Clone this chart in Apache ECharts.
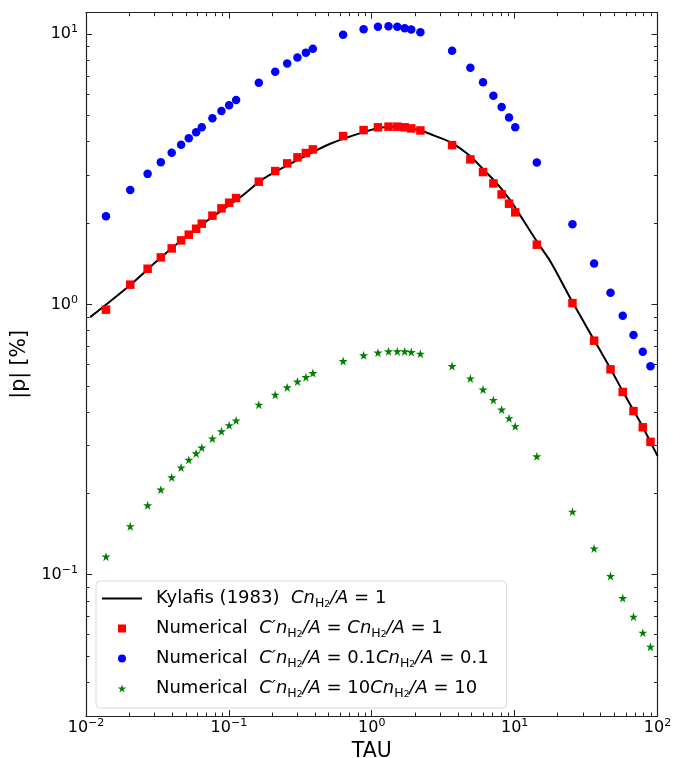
<!DOCTYPE html>
<html>
<head>
<meta charset="utf-8">
<title>|p| vs TAU</title>
<script src="https://cdn.jsdelivr.net/npm/echarts@6/dist/echarts.min.js"></script>
<style>
  html, body { margin: 0; padding: 0; background: #fff; }
  #main { width: 673px; height: 758px; }
</style>
</head>
<body>
<div id="main"></div>
<script>
"use strict";

// tau grid of the numerical runs (same for the three runs)
var tau = [0.0138, 0.0204, 0.027, 0.0334, 0.0398, 0.0463, 0.0524, 0.059, 0.0646, 0.0767,
  0.0887, 0.1004, 0.1124, 0.162, 0.211, 0.256, 0.302, 0.346, 0.387, 0.63,
  0.877, 1.105, 1.31, 1.51, 1.70, 1.89, 2.19, 3.65, 4.90, 6.01,
  7.10, 8.11, 9.14, 10.1, 14.3, 25.4, 36.0, 46.9, 57.1, 67.9,
  78.9, 89.3];

// C'n/A = Cn/A = 1
var pRed = [0.956, 1.183, 1.355, 1.492, 1.611, 1.725, 1.811, 1.905, 1.989, 2.13,
  2.266, 2.378, 2.474, 2.844, 3.113, 3.324, 3.499, 3.63, 3.745, 4.195,
  4.414, 4.52, 4.545, 4.545, 4.52, 4.478, 4.40, 3.885, 3.439, 3.087,
  2.803, 2.552, 2.358, 2.19, 1.663, 1.011, 0.734, 0.575, 0.474, 0.403,
  0.351, 0.310];

// C'n/A = 0.1
var pBlue = [2.12, 2.65, 3.04, 3.36, 3.64, 3.90, 4.12, 4.33, 4.52, 4.88,
  5.19, 5.45, 5.70, 6.61, 7.26, 7.79, 8.20, 8.54, 8.83, 9.95,
  10.43, 10.65, 10.70, 10.65, 10.52, 10.41, 10.15, 8.68, 7.51, 6.63,
  5.92, 5.37, 4.91, 4.52, 3.35, 1.98, 1.418, 1.105, 0.908, 0.770,
  0.668, 0.590];

// C'n/A = 10
var pGreen = [0.1166, 0.151, 0.1805, 0.2063, 0.229, 0.249, 0.266, 0.281, 0.295, 0.319,
  0.339, 0.357, 0.372, 0.4255, 0.463, 0.493, 0.518, 0.538, 0.557, 0.617,
  0.648, 0.663, 0.670, 0.670, 0.670, 0.666, 0.657, 0.591, 0.532, 0.484,
  0.443, 0.408, 0.379, 0.354, 0.274, 0.171, 0.125, 0.0988, 0.0819, 0.0699,
  0.0610, 0.0541];

// Kylafis (1983) analytic curve
var kylafisTau = [0.0107, 0.0204, 0.0334, 0.057, 0.12, 0.175, 0.299, 0.512, 0.876, 1.15,
  1.5, 2.19, 2.71, 3.65, 4.90, 6.06, 7.13, 8.17, 9.19, 10.1,
  14.4, 17.8, 25.4, 36.2, 47.0, 57.5, 68.2, 78.9, 100];
var kylafisP = [0.897, 1.18, 1.49, 1.88, 2.49, 2.92, 3.41, 3.93, 4.34, 4.50,
  4.555, 4.40, 4.22, 3.95, 3.53, 3.15, 2.89, 2.66, 2.45, 2.28,
  1.70, 1.44, 1.02, 0.735, 0.577, 0.474, 0.404, 0.352, 0.275];

// axis ranges and ticks
var xMin = 0.01, xMax = 100;
var yMin = 0.03, yMax = 12;
var xMinorTicks = [0.02, 0.03, 0.04, 0.05, 0.06, 0.07, 0.08, 0.09,
  0.2, 0.3, 0.4, 0.5, 0.6, 0.7, 0.8, 0.9,
  2, 3, 4, 5, 6, 7, 8, 9,
  20, 30, 40, 50, 60, 70, 80, 90];
var yMinorTicks = [0.04, 0.05, 0.06, 0.07, 0.08, 0.09,
  0.2, 0.3, 0.4, 0.5, 0.6, 0.7, 0.8, 0.9,
  2, 3, 4, 5, 6, 7, 8, 9];

var seriesNames = ["kylafis", "num1", "num01", "num10"];

var FONT = "DejaVu Sans";
var AXIS_COLOR = "#222";

function zip(a, b) {
  var out = [];
  for (var i = 0; i < a.length; i++) {
    out.push([a[i], b[i]]);
  }
  return out;
}

// 10^n label like matplotlib
function powLabel(val) {
  var e = Math.round(Math.log(val) / Math.LN10);
  if (Math.abs(val / Math.pow(10, e) - 1) > 1e-6) {
    return "";
  }
  var s = e < 0 ? "\u2212" + (-e) : "" + e;
  return "{b|10}{e|" + s + "}";
}

var labelRich = {
  b: { fontFamily: FONT, fontSize: 16, color: "#000", lineHeight: 20 },
  e: { fontFamily: FONT, fontSize: 11, color: "#000", lineHeight: 11, verticalAlign: "top" }
};

function makeAxis(position, min, max, minor, withLabel) {
  var ax = {
    type: "log",
    logBase: 10,
    min: min,
    max: max,
    position: position,
    splitLine: { show: false },
    axisLine: { show: !minor, lineStyle: { color: AXIS_COLOR, width: 1.2 } },
    axisTick: {
      show: true,
      inside: true,
      length: minor ? 3.5 : 6,
      lineStyle: { color: AXIS_COLOR, width: 1 }
    },
    axisLabel: { show: false }
  };
  if (minor) {
    var isX = position === "top" || position === "bottom";
    ax.axisTick.customValues = isX ? xMinorTicks : yMinorTicks;
  }
  if (withLabel) {
    ax.axisLabel = {
      show: true,
      formatter: powLabel,
      rich: labelRich,
      margin: position === "bottom" ? 2 : 8,
      showMinLabel: true,
      showMaxLabel: true
    };
  }
  return ax;
}

var xAxes = [
  makeAxis("bottom", xMin, xMax, false, true),
  makeAxis("bottom", xMin, xMax, true, false),
  makeAxis("top", xMin, xMax, false, false),
  makeAxis("top", xMin, xMax, true, false)
];
xAxes[0].name = "TAU";
xAxes[0].nameLocation = "middle";
xAxes[0].nameGap = 19;
xAxes[0].nameTextStyle = { fontFamily: FONT, fontSize: 20.5, color: "#000" };

var yAxes = [
  makeAxis("left", yMin, yMax, false, true),
  makeAxis("left", yMin, yMax, true, false),
  makeAxis("right", yMin, yMax, false, false),
  makeAxis("right", yMin, yMax, true, false)
];
yAxes[0].name = "|p| [%]";
yAxes[0].nameLocation = "middle";
yAxes[0].nameGap = 49;
yAxes[0].nameTextStyle = { fontFamily: FONT, fontSize: 20.5, color: "#000" };

// legend texts with mathtext-like pieces
var legendTexts = {
  kylafis: "{f|Kylafis (1983)  }{i|Cn}{s|H}{ss|2}{i|/A}{r| = 1}",
  num1: "{f|Numerical  }{i|C\u2032n}{s|H}{ss|2}{i|/A}{r| = }{i|Cn}{s|H}{ss|2}{i|/A}{r| = 1}",
  num01: "{f|Numerical  }{i|C\u2032n}{s|H}{ss|2}{i|/A}{r| = 0.1}{i|Cn}{s|H}{ss|2}{i|/A}{r| = 0.1}",
  num10: "{f|Numerical  }{i|C\u2032n}{s|H}{ss|2}{i|/A}{r| = 10}{i|Cn}{s|H}{ss|2}{i|/A}{r| = 10}"
};

var starPath = "path://M100,0 L122.45,69.1 L195.1,69.1 L136.33,111.8 L158.78,180.9 L100,138.2 L41.22,180.9 L63.67,111.8 L4.9,69.1 L77.55,69.1 Z";
var lineIcon = "path://M0,0 L40,0 L40,2 L0,2 Z";
var squareIcon = "path://M0,0 L10,0 L10,10 L0,10 Z";

var chart = echarts.init(document.getElementById("main"), null, { renderer: "canvas" });

var option = {
  animation: false,
  backgroundColor: "#fff",
  grid: {
    left: 86,
    right: 15.5,
    top: 12.7,
    bottom: 42,
    containLabel: false,
    outerBoundsMode: "none"
  },
  xAxis: xAxes,
  yAxis: yAxes,
  legend: {
    orient: "vertical",
    left: 96,
    top: 581,
    padding: [6, 18, 8, 6],
    itemGap: 7,
    itemWidth: 40,
    itemHeight: 8,
    symbolKeepAspect: true,
    borderColor: "#d9d9d9",
    borderWidth: 1,
    borderRadius: 4,
    backgroundColor: "rgba(255,255,255,0.85)",
    data: [
      { name: seriesNames[0], icon: lineIcon },
      { name: seriesNames[1], icon: squareIcon },
      { name: seriesNames[2], icon: "circle" },
      { name: seriesNames[3], icon: starPath }
    ],
    formatter: function (name) {
      return legendTexts[name];
    },
    textStyle: {
      fontFamily: FONT,
      fontSize: 18,
      color: "#000",
      rich: {
        f: { fontFamily: FONT, fontSize: 18, color: "#000", lineHeight: 22, padding: [0, 0, 0, 9] },
        r: { fontFamily: FONT, fontSize: 18, color: "#000", lineHeight: 22 },
        i: { fontFamily: FONT, fontSize: 18, fontStyle: "italic", color: "#000", lineHeight: 22 },
        s: { fontFamily: FONT, fontSize: 12.5, color: "#000", lineHeight: 12, padding: [10, 0, 0, 0] },
        ss: { fontFamily: FONT, fontSize: 9, color: "#000", lineHeight: 9, padding: [13, 0, 0, 0] }
      }
    }
  },
  series: [{
    name: "kylafis",
    type: "line",
    data: zip(kylafisTau, kylafisP),
    symbol: "none",
    smooth: 0.3,
    lineStyle: { color: "#000", width: 2 },
    itemStyle: { color: "#000" },
    z: 2
  }, {
    name: "num1",
    type: "scatter",
    data: zip(tau, pRed),
    symbol: "rect",
    symbolSize: 8.5,
    itemStyle: { color: "#ff0000", opacity: 1 },
    z: 3
  }, {
    name: "num01",
    type: "scatter",
    data: zip(tau, pBlue),
    symbol: "circle",
    symbolSize: 8.5,
    itemStyle: { color: "#0000ff", opacity: 1 },
    z: 3
  }, {
    name: "num10",
    type: "scatter",
    data: zip(tau, pGreen),
    symbol: starPath,
    symbolSize: 9,
    itemStyle: { color: "#008000", opacity: 1 },
    z: 3
  }]
};

chart.setOption(option);

window.addEventListener("resize", function () {
  chart.resize();
});
</script>
</body>
</html>
